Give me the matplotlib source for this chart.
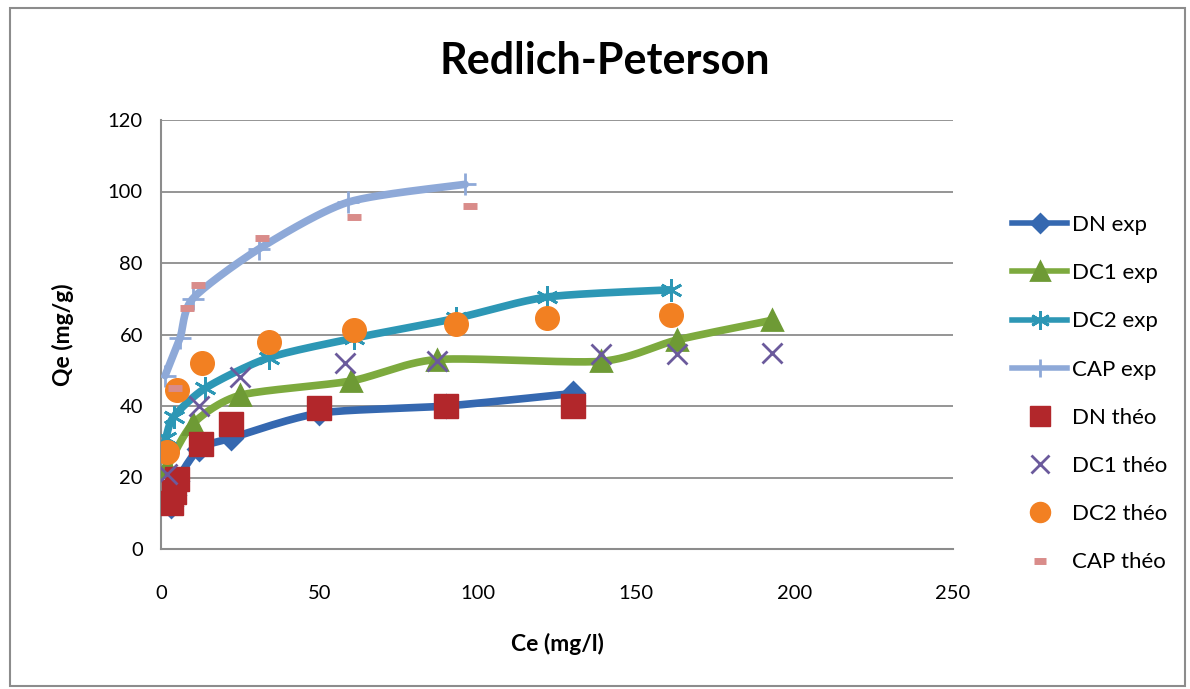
import numpy as np
import matplotlib
matplotlib.use("Agg")
import matplotlib.pyplot as plt
from matplotlib.patches import Rectangle

plt.rcParams['font.family'] = ['Lato', 'DejaVu Sans']

# Experimental isotherm data (Ce in mg/l, Qe in mg/g)
dn_exp_ce = [3, 4, 5, 12, 22, 50, 90, 130]
dn_exp_qe = [12, 15, 19, 28, 31, 38, 40, 43.5]
dc1_exp_ce = [2, 10, 25, 60, 87, 139, 163, 193]
dc1_exp_qe = [23, 35, 43, 47, 53, 52.5, 58.5, 64]
dc2_exp_ce = [1.5, 4, 14, 34, 61, 93, 122, 161]
dc2_exp_qe = [31, 37, 45, 53.5, 59, 64.5, 70.5, 72.5]
cap_exp_ce = [1.3, 6, 10, 31, 59, 96]
cap_exp_qe = [48.5, 59, 70, 84, 97, 102]

# Redlich-Peterson model values
dn_theo_ce = [3, 4, 5, 12.5, 22, 50, 90, 130]
dn_theo_qe = [13, 16, 19.5, 29.5, 35, 39.5, 40, 40]
dc1_theo_ce = [2, 12, 25, 58, 87, 139, 163, 193]
dc1_theo_qe = [21, 40, 48, 52, 52.5, 54.5, 54.5, 54.8]
dc2_theo_ce = [2, 5, 13, 34, 61, 93, 122, 161]
dc2_theo_qe = [27, 44.5, 52, 58, 61.3, 63, 64.5, 65.5]
cap_theo_ce = [4.4, 8.2, 11.7, 32, 61, 97.5]
cap_theo_qe = [45, 67.4, 73.8, 87, 93, 96]

x_ticks = [0, 50, 100, 150, 200, 250]
y_ticks = [0, 20, 40, 60, 80, 100, 120]

W, H = 11.9, 6.89
fig = plt.figure(figsize=(W, H), dpi=100)
ax_rect = [161 / 1190, 1 - 549 / 689, (953 - 161) / 1190, (549 - 120) / 689]
ax = fig.add_axes(ax_rect)
ax.set_xlim(0, 250)
ax.set_ylim(0, 120)

# pixel size of one data unit, used for screen-space smoothing
sx = ax_rect[2] * W * 100 / 250
sy = ax_rect[3] * H * 100 / 120


def smooth(xs, ys, n=30, k=8.0):
    """Bezier smoothing through every point, computed in screen space."""
    P = np.column_stack([np.asarray(xs, float) * sx, np.asarray(ys, float) * sy])
    P = np.vstack([P[0], P, P[-1]])
    out = []
    for i in range(1, len(P) - 2):
        p0, p1, p2, p3 = P[i - 1], P[i], P[i + 1], P[i + 2]
        c1 = p1 + (p2 - p0) / k
        c2 = p2 - (p3 - p1) / k
        t = np.linspace(0, 1, n)[:, None]
        seg = ((1 - t) ** 3) * p1 + 3 * ((1 - t) ** 2) * t * c1 + 3 * (1 - t) * t ** 2 * c2 + t ** 3 * p2
        out.append(seg if i == 1 else seg[1:])
    pts = np.vstack(out)
    return pts[:, 0] / sx, pts[:, 1] / sy


exp_series = [
    ("DN exp", dn_exp_ce, dn_exp_qe, "#3568B0", "D", 11, "#3568B0"),
    ("DC1 exp", dc1_exp_ce, dc1_exp_qe, "#7DAA3E", "^", 15, "#6E9A35"),
    ("DC2 exp", dc2_exp_ce, dc2_exp_qe, "#2D97B5", (6, 2, 0), 16, "#2D97B5"),
    ("CAP exp", cap_exp_ce, cap_exp_qe, "#8EA9D8", "+", 16, "#8EA9D8"),
]

handles = []
for label, xs, ys, col, mk, ms, mcol in exp_series:
    lx, ly = smooth(xs, ys)
    ax.plot(lx, ly, color=col, lw=5.5, solid_capstyle='round', zorder=3)
    ax.plot(xs, ys, linestyle='none', marker=mk, markersize=ms,
            color=mcol, markeredgecolor=mcol, markeredgewidth=2, zorder=4)
    h, = ax.plot([], [], color=col, lw=4, marker=mk, markersize=ms * 0.85,
                 markerfacecolor=mcol, markeredgecolor=mcol, markeredgewidth=2)
    handles.append((h, label))

theo_series = [
    ("DN théo", dn_theo_ce, dn_theo_qe, "s", 17, "#B2272B", 1),
    ("DC1 théo", dc1_theo_ce, dc1_theo_qe, "x", 15, "#6B5A9C", 2),
    ("DC2 théo", dc2_theo_ce, dc2_theo_qe, "o", 17, "#F28022", 1),
    ("CAP théo", cap_theo_ce, cap_theo_qe, "_", 10, "#D98C8A", 5),
]
for label, xs, ys, mk, ms, col, mew in theo_series:
    ax.plot(xs, ys, linestyle='none', marker=mk, markersize=ms, color=col,
            markeredgecolor=col, markeredgewidth=mew, zorder=5)
    h, = ax.plot([], [], linestyle='none', marker=mk, markersize=ms * 0.85, color=col,
                 markeredgecolor=col, markeredgewidth=mew)
    handles.append((h, label))

# axes styling
ax.set_xticks(x_ticks)
ax.set_yticks(y_ticks)
ax.tick_params(axis='both', length=0, labelsize=14.5, colors='black')
ax.tick_params(axis='x', pad=26)
ax.tick_params(axis='y', pad=13)
ax.yaxis.grid(True, color='#8C8C8C', lw=1.3)
ax.set_axisbelow(True)
for s in ['top', 'right']:
    ax.spines[s].set_visible(False)
for s in ['left', 'bottom']:
    ax.spines[s].set_color('#8C8C8C')
    ax.spines[s].set_linewidth(1.5)

ax.set_xlabel("Ce (mg/l)", fontsize=16.5, fontweight='bold', labelpad=22)
ax.set_ylabel("Qe (mg/g)", fontsize=16.5, fontweight='bold', labelpad=24)
fig.text(605 / 1190, 1 - 61 / 689, "Redlich-Peterson", fontsize=31,
         fontweight='bold', ha='center', va='center')

leg = fig.legend([h for h, _ in handles], [l for _, l in handles],
                 loc='upper left', bbox_to_anchor=(1003 / 1190, 1 - 206 / 689),
                 frameon=False, fontsize=16, numpoints=1, handlelength=2.5,
                 handletextpad=0.2, labelspacing=1.27, borderaxespad=0)

# chart border
fig.patches.append(Rectangle((10 / 1190, 3 / 689), 1175 / 1190, 678 / 689,
                             transform=fig.transFigure, fill=False,
                             edgecolor='#8C8C8C', lw=1.5))

fig.savefig("out.png", dpi=100)
